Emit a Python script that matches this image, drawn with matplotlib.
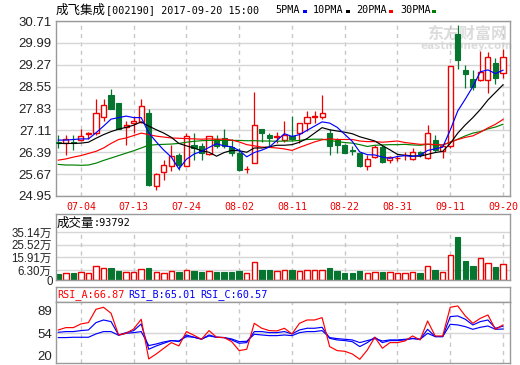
import numpy as np
import matplotlib.pyplot as plt
from matplotlib.patches import Rectangle

# ---- data (trading days 2017-06-29 .. 2017-09-20) ----
tick_idx = [3, 10, 17, 24, 31, 38, 45, 52, 59]
tick_labels = ['07-04', '07-13', '07-24', '08-02', '08-11', '08-22', '08-31', '09-11', '09-20']

opens = [26.72, 26.70, 26.74, 26.78, 26.99, 27.01, 27.56, 28.26, 28.00, 27.21,
         27.34, 27.38, 27.69, 25.27, 25.73, 25.93, 26.31, 25.93, 26.64, 26.61,
         26.34, 26.81, 26.86, 26.57, 26.35, 25.83, 26.04, 27.16, 26.97, 26.89,
         26.78, 26.94, 27.01, 27.36, 27.55, 27.56, 27.03, 26.78, 26.64, 26.46,
         26.35, 25.93, 26.24, 26.57, 26.12, 26.19, 26.29, 26.16, 26.39, 26.19,
         26.79, 26.44, 26.60, 30.28, 29.10, 28.79, 28.77, 28.77, 29.34, 29.01]
highs = [26.95, 26.97, 26.97, 27.14, 27.05, 28.13, 28.15, 28.48, 28.00, 27.41,
         27.58, 28.15, 27.80, 25.70, 26.15, 26.64, 26.37, 27.03, 27.01, 26.70,
         26.94, 26.97, 27.14, 26.81, 26.53, 25.93, 28.37, 27.16, 27.01, 27.05,
         27.41, 27.58, 27.36, 27.74, 27.74, 28.26, 27.14, 26.86, 26.66, 26.61,
         26.37, 26.31, 26.64, 26.64, 26.28, 26.31, 26.40, 26.52, 26.44, 27.28,
         26.96, 26.66, 29.22, 30.58, 29.26, 29.10, 29.73, 29.70, 29.48, 29.78]
lows = [26.53, 26.31, 26.48, 26.75, 26.81, 26.97, 27.41, 27.80, 27.17, 26.64,
        27.03, 27.36, 25.29, 25.14, 25.49, 25.76, 25.82, 25.93, 26.15, 26.15,
        26.31, 26.53, 26.53, 26.26, 25.76, 25.71, 26.02, 26.72, 26.61, 26.70,
        26.74, 26.75, 26.70, 27.08, 27.34, 27.47, 26.31, 26.35, 26.35, 26.31,
        25.91, 25.82, 26.20, 26.02, 26.02, 26.09, 26.13, 26.13, 26.25, 26.17,
        26.41, 26.19, 26.52, 29.12, 28.49, 28.44, 28.75, 28.33, 28.64, 28.82]
closes = [26.68, 26.83, 26.71, 26.92, 27.01, 27.69, 27.93, 27.83, 27.17, 27.30,
          27.43, 27.91, 25.32, 25.68, 25.96, 26.26, 25.98, 26.94, 26.53, 26.37,
          26.92, 26.59, 26.61, 26.35, 25.80, 25.85, 27.29, 27.01, 26.86, 26.91,
          26.95, 26.81, 27.34, 27.56, 27.57, 27.69, 26.61, 26.64, 26.37, 26.44,
          25.93, 26.17, 26.57, 26.06, 26.24, 26.21, 26.31, 26.41, 26.30, 27.01,
          26.48, 26.59, 29.22, 29.43, 28.96, 28.55, 29.04, 29.51, 28.82, 29.51]

ma5 = [26.79, 26.79, 26.81, 26.83, 26.83, 27.03, 27.25, 27.48, 27.53, 27.58,
       27.53, 27.53, 27.03, 26.73, 26.46, 26.23, 25.84, 26.16, 26.33, 26.42,
       26.55, 26.67, 26.60, 26.57, 26.45, 26.24, 26.38, 26.46, 26.56, 26.78,
       27.00, 26.91, 26.97, 27.11, 27.25, 27.39, 27.35, 27.21, 26.98, 26.75,
       26.40, 26.31, 26.30, 26.23, 26.19, 26.25, 26.28, 26.25, 26.29, 26.45,
       26.50, 26.56, 27.12, 27.75, 28.14, 28.55, 29.04, 29.10, 28.98, 29.09]
ma10 = [26.68, 26.68, 26.68, 26.69, 26.72, 26.85, 26.97, 27.07, 27.15, 27.21,
        27.28, 27.39, 27.25, 27.13, 27.02, 26.88, 26.68, 26.60, 26.53, 26.44,
        26.39, 26.26, 26.38, 26.45, 26.44, 26.39, 26.53, 26.53, 26.57, 26.62,
        26.62, 26.64, 26.72, 26.84, 27.02, 27.20, 27.13, 27.09, 27.05, 27.00,
        26.90, 26.83, 26.76, 26.61, 26.47, 26.32, 26.29, 26.27, 26.26, 26.32,
        26.38, 26.42, 26.68, 27.02, 27.29, 27.53, 27.80, 28.11, 28.36, 28.61]
ma20 = [26.13, 26.17, 26.23, 26.28, 26.35, 26.42, 26.53, 26.68, 26.81, 26.86,
        26.94, 27.02, 26.97, 26.92, 26.89, 26.86, 26.85, 26.84, 26.83, 26.82,
        26.83, 26.82, 26.82, 26.79, 26.73, 26.64, 26.60, 26.56, 26.55, 26.53,
        26.50, 26.45, 26.55, 26.64, 26.73, 26.80, 26.83, 26.81, 26.81, 26.81,
        26.76, 26.74, 26.74, 26.72, 26.74, 26.76, 26.71, 26.68, 26.65, 26.66,
        26.64, 26.63, 26.72, 26.81, 26.88, 26.93, 27.05, 27.19, 27.31, 27.47]
ma30 = [25.99, 25.97, 25.97, 25.96, 25.97, 26.03, 26.12, 26.20, 26.28, 26.36,
        26.44, 26.53, 26.62, 26.64, 26.65, 26.66, 26.68, 26.72, 26.75, 26.77,
        26.78, 26.78, 26.78, 26.78, 26.78, 26.77, 26.77, 26.76, 26.76, 26.75,
        26.76, 26.76, 26.78, 26.81, 26.82, 26.82, 26.78, 26.74, 26.71, 26.69,
        26.64, 26.58, 26.62, 26.63, 26.64, 26.64, 26.65, 26.63, 26.62, 26.65,
        26.63, 26.63, 26.72, 26.82, 26.93, 27.02, 27.07, 27.16, 27.22, 27.31]

# volume in 万
volume = [3.21, 3.72, 4.24, 4.74, 3.72, 9.06, 7.54, 7.80, 5.51, 5.00,
          4.74, 6.79, 7.80, 5.00, 3.72, 5.51, 4.74, 6.27, 5.76, 4.74,
          5.51, 4.74, 4.74, 4.74, 5.51, 3.98, 12.37, 6.27, 6.27, 5.24,
          6.27, 6.27, 5.76, 6.27, 6.27, 6.27, 8.06, 5.76, 4.24, 4.24,
          5.51, 4.24, 4.74, 4.74, 4.74, 4.24, 4.24, 4.74, 4.24, 9.33,
          6.27, 4.74, 17.75, 31.81, 13.16, 9.33, 15.16, 11.34, 8.57, 10.86]

rsi_a = [59.1, 62.7, 62.7, 68.3, 70.4, 90.8, 93.9, 84.7, 51.4, 54.0,
         60.6, 75.5, 14.6, 22.3, 31.0, 39.7, 34.6, 56.6, 50.9, 44.8,
         58.1, 47.9, 47.4, 41.2, 27.4, 29.5, 69.3, 61.7, 58.1, 57.6,
         61.7, 53.0, 69.3, 74.4, 74.4, 78.0, 33.6, 27.4, 26.4, 22.3,
         14.1, 28.4, 47.9, 31.0, 39.7, 39.7, 42.2, 49.9, 43.8, 72.9,
         49.9, 49.9, 93.9, 95.9, 80.6, 69.3, 77.0, 82.1, 60.1, 66.87]
rsi_b = [55.5, 56.6, 56.6, 58.1, 59.1, 70.4, 74.4, 71.9, 51.4, 55.0,
         58.1, 68.3, 29.5, 34.6, 38.7, 42.8, 41.2, 51.4, 47.9, 44.8,
         51.4, 47.9, 47.4, 43.8, 38.7, 39.7, 56.6, 56.6, 55.0, 55.0,
         56.6, 53.0, 59.1, 61.7, 61.7, 63.2, 46.3, 43.8, 42.8, 41.2,
         33.6, 39.7, 47.9, 39.7, 42.8, 42.8, 43.8, 46.3, 44.8, 60.1,
         48.9, 48.9, 79.6, 80.6, 75.5, 66.8, 71.9, 74.4, 61.7, 65.01]
rsi_c = [47.4, 47.4, 47.9, 47.9, 47.9, 53.0, 56.6, 56.6, 50.9, 54.0,
         55.0, 56.6, 35.1, 37.6, 40.7, 42.8, 42.2, 48.9, 47.9, 45.3,
         49.9, 47.9, 47.4, 45.3, 41.2, 41.7, 52.5, 51.4, 50.4, 50.4,
         51.4, 50.4, 55.0, 56.6, 56.6, 58.1, 47.4, 45.8, 44.8, 43.8,
         39.7, 42.8, 45.8, 42.2, 43.8, 43.8, 44.8, 45.8, 44.8, 54.0,
         48.9, 48.9, 67.8, 66.8, 64.2, 60.1, 63.2, 65.2, 60.1, 60.57]

price_ticks = [24.95, 25.67, 26.39, 27.11, 27.83, 28.55, 29.27, 29.99, 30.71]
vol_ticks = [6.30, 15.91, 25.52, 35.14]
vol_labels = ['6.30万', '15.91万', '25.52万', '35.14万']
rsi_ticks = [20, 54, 89]

# ---- styling ----
RED = '#ee0000'
GREEN = '#06752f'
BORDER = '#9a9a9a'
HGRID = '#d6d6d6'
VGRID = '#c8c8c8'
MONO = ['DejaVu Sans Mono', 'Noto Sans CJK SC']
LABEL = ['Liberation Sans', 'Noto Sans CJK SC']
CJK = ['Noto Sans CJK SC', 'DejaVu Sans']

W, H = 520, 365
fig = plt.figure(figsize=(W / 100, H / 100), dpi=100)


def box(l, t, r, b):
    return [l / W, 1 - b / H, (r - l) / W, (b - t) / H]


def ftext(x, y, s, **kw):
    kw.setdefault('va', 'center')
    kw.setdefault('ha', 'left')
    fig.text(x / W, 1 - y / H, s, **kw)


def frame(a):
    for sp in a.spines.values():
        sp.set_color(BORDER)
        sp.set_linewidth(1)


x = np.arange(len(closes))
o, h, l, c = map(np.array, (opens, highs, lows, closes))
up = c >= o
xlim = (-0.305, 59.93)

# ---- main candle panel ----
ax = fig.add_axes(box(56, 21, 510, 196))
frame(ax)
ax.set_xlim(*xlim)
ax.set_ylim(price_ticks[0], price_ticks[-1])
ax.set_yticks(price_ticks)
ax.set_yticklabels([f'{t:.2f}' for t in price_ticks], family=LABEL, fontsize=9.5, color='#222222')
ax.set_xticks(tick_idx)
ax.set_xticklabels(tick_labels, family=MONO, fontsize=7.2, color=RED)
ax.tick_params(axis='y', length=0, pad=3)
ax.tick_params(axis='x', length=0, pad=4)
ax.grid(axis='y', color=HGRID, lw=1, ls='-')
ax.grid(axis='x', color=VGRID, lw=1, ls=(0, (3, 3)))
ax.set_axisbelow(True)

ax.text(0.905, 0.925, '东方财富网', transform=ax.transAxes, ha='center', va='center',
        family=CJK, fontsize=11.5, fontweight='bold', color='#dcdcdc', zorder=0.5)
ax.text(0.905, 0.855, 'eastmoney.com', transform=ax.transAxes, ha='center', va='center',
        fontsize=7.5, fontweight='bold', color='#dcdcdc', zorder=0.5)

ax.vlines(x, l, h, colors=np.where(up, RED, GREEN), lw=0.9, zorder=2)
body_lo = np.minimum(o, c)
body_h = np.maximum(np.abs(c - o), 0.012)
ax.bar(x[up], body_h[up], bottom=body_lo[up], width=0.68, facecolor='white',
       edgecolor=RED, lw=1, zorder=3)
ax.bar(x[~up], body_h[~up], bottom=body_lo[~up], width=0.68, facecolor=GREEN,
       edgecolor=GREEN, lw=0.8, zorder=3)

ax.plot(x, ma30, color='#008000', lw=0.85, zorder=4)
ax.plot(x, ma20, color='#ff0000', lw=0.85, zorder=4)
ax.plot(x, ma10, color='#000000', lw=0.85, zorder=4)
ax.plot(x, ma5, color='#0000ff', lw=0.85, zorder=4)

# title and MA legend
ftext(56, 10, '成飞集成', family=CJK, fontsize=9)
ftext(106, 10, '[002190] 2017-09-20 15:00', family=MONO, fontsize=7.3)
for name, lx, sx, col in [('5PMA', 275, 302.5, '#0000ff'), ('10PMA', 313, 345.5, '#000000'),
                          ('20PMA', 356, 388.5, '#ff0000'), ('30PMA', 400, 431.5, '#008000')]:
    ftext(lx, 10, name, family=MONO, fontsize=7.3)
    fig.add_artist(Rectangle((sx / W, 1 - 12.5 / H), 4.5 / W, 3 / H,
                             transform=fig.transFigure, color=col, lw=0))

# ---- volume panel ----
# zero sits a little above the bottom border, bars start at the border
vlo, vhi = -1.38, 49.1
av = fig.add_axes(box(56, 214, 510, 280))
frame(av)
av.set_xlim(*xlim)
av.set_ylim(vlo, vhi)
av.set_xticks([])
av.set_yticks(vol_ticks)
av.set_yticklabels(vol_labels, family=LABEL, fontsize=8.3, color='#222222')
av.tick_params(axis='y', length=0, pad=3)
ftext(53, 282, '0', ha='right', family=LABEL, fontsize=8.3, color='#222222')
for t in vol_ticks:
    av.axhline(t, color=HGRID, lw=1, zorder=0)
av.vlines(tick_idx, vlo, vol_ticks[-1], colors=VGRID, lw=1, linestyles=(0, (3, 3)), zorder=0)
vol = np.array(volume)
av.bar(x[up], vol[up] - vlo, bottom=vlo, width=0.72, facecolor='white', edgecolor=RED, lw=1, zorder=2)
av.bar(x[~up], vol[~up] - vlo, bottom=vlo, width=0.72, facecolor=GREEN, edgecolor=GREEN, lw=0.8, zorder=2)
ftext(57, 223, '成交量', family=CJK, fontsize=9)
ftext(94, 223, ':93792', family=MONO, fontsize=7.3)

# ---- RSI panel ----
at = fig.add_axes(box(56, 287, 510, 302))
frame(at)
at.set_xticks([])
at.set_yticks([])
ftext(57, 294.5, 'RSI_A:66.87', family=MONO, fontsize=7.3, color='#ff0000')
ftext(128, 294.5, 'RSI_B:65.01', family=MONO, fontsize=7.3, color='#0000ff')
ftext(200, 294.5, 'RSI_C:60.57', family=MONO, fontsize=7.3, color='#0000ff')

ar = fig.add_axes(box(56, 302, 510, 363))
frame(ar)
ar.set_xlim(*xlim)
ar.set_ylim(8.4, 102)
ar.set_xticks([])
ar.set_yticks(rsi_ticks)
ar.set_yticklabels([str(t) for t in rsi_ticks], family=LABEL, fontsize=9.5, color='#222222')
ar.tick_params(axis='y', length=0, pad=3)
ar.axhline(54, color=HGRID, lw=1, zorder=0)
ar.vlines(tick_idx, 8.4, 102, colors=VGRID, lw=1, linestyles=(0, (3, 3)), zorder=0)
ar.plot(x, rsi_c, color='#0000ff', lw=0.85)
ar.plot(x, rsi_b, color='#0000ff', lw=0.85)
ar.plot(x, rsi_a, color='#ff0000', lw=0.85)

fig.savefig('out.png', dpi=100)
